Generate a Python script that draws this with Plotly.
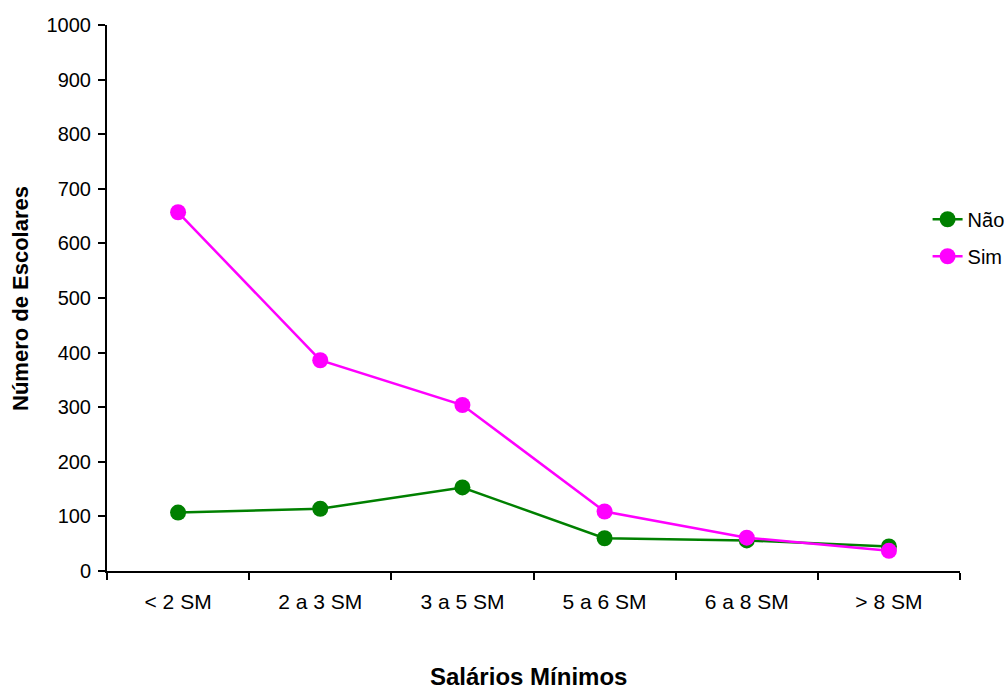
import plotly.graph_objects as go

categories = ["< 2 SM", "2 a 3 SM", "3 a 5 SM", "5 a 6 SM", "6 a 8 SM", "> 8 SM"]
nao = [107, 114, 153, 60, 56, 45]
sim = [657, 386, 304, 109, 61, 37]
y_ticks = [0, 100, 200, 300, 400, 500, 600, 700, 800, 900, 1000]
x_title = "Salários Mínimos"
y_title = "Número de Escolares"

FONT = "Liberation Sans, Arial, sans-serif"

fig = go.Figure()
fig.add_trace(go.Scatter(x=categories, y=nao, name="Não", mode="lines+markers",
                         legendgroup="nao",
                         line=dict(color="#008000", width=2.5),
                         marker=dict(color="#008000", size=16)))
fig.add_trace(go.Scatter(x=categories, y=sim, name="Sim", mode="lines+markers",
                         legendgroup="sim",
                         line=dict(color="#FF00FF", width=2.5),
                         marker=dict(color="#FF00FF", size=16)))

fig.update_layout(
    width=1007, height=689,
    margin=dict(l=107, r=47, t=25, b=118, autoexpand=False),
    paper_bgcolor="white", plot_bgcolor="white",
    font=dict(family=FONT, size=20, color="black"),
    showlegend=True,
    legend=dict(x=0.962, y=0.68, xanchor="left", yanchor="top",
                bgcolor="rgba(0,0,0,0)", font=dict(size=20),
                traceorder="grouped", tracegroupgap=8),
    annotations=[
        dict(text="<b>" + x_title + "</b>", xref="paper", yref="paper",
             x=0.494, y=-0.193, xanchor="center", yanchor="middle",
             showarrow=False, font=dict(size=24)),
        dict(text="<b>" + y_title + "</b>", xref="paper", yref="paper",
             x=-0.102, y=0.5, xanchor="center", yanchor="middle",
             textangle=-90, showarrow=False, font=dict(size=22)),
    ],
)
fig.update_xaxes(
    type="category", showgrid=False, zeroline=False, automargin=False,
    showline=True, linecolor="black", linewidth=2,
    ticks="outside", tickson="boundaries", ticklen=7, tickwidth=2, tickcolor="black",
    tickfont=dict(size=21), ticklabelstandoff=11,
    range=[-0.5, 5.5],
)
fig.update_yaxes(
    range=[0, 1000], tickvals=y_ticks, showgrid=False, zeroline=False, automargin=False,
    showline=True, linecolor="black", linewidth=2,
    ticks="outside", ticklen=7, tickwidth=2, tickcolor="black",
    tickfont=dict(size=20), ticklabelstandoff=3,
)

fig.write_html("out.html")
